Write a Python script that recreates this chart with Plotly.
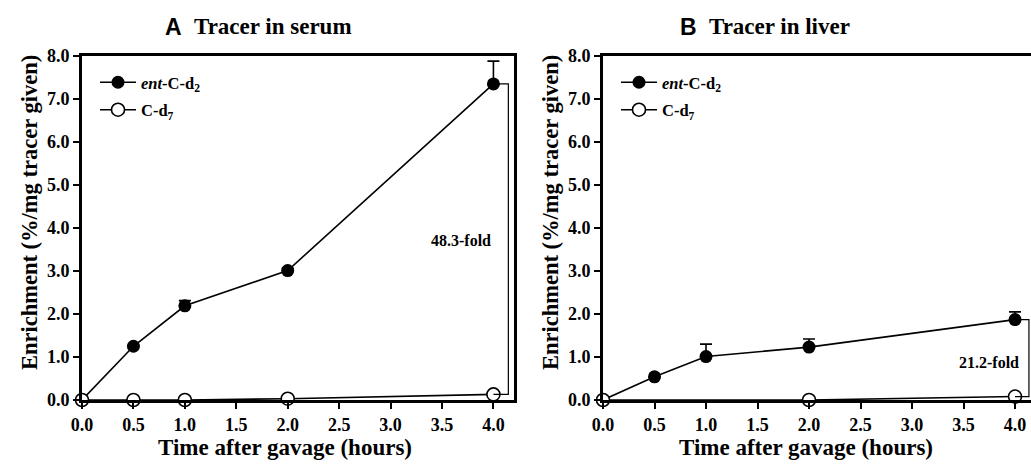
import plotly.graph_objects as go
from plotly.subplots import make_subplots

# ---- data ----
time_all = [0.0, 0.5, 1.0, 2.0, 4.0]

serum_ent = [0.0, 1.25, 2.19, 3.01, 7.35]
serum_ent_err = [0.0, 0.0, 0.12, 0.05, 0.53]
serum_cd7 = [0.0, 0.0, 0.0, 0.03, 0.13]

liver_time_ent = [0.0, 0.5, 1.0, 2.0, 4.0]
liver_ent = [0.0, 0.54, 1.01, 1.23, 1.87]
liver_ent_err = [0.0, 0.0, 0.29, 0.19, 0.18]
liver_time_cd7 = [0.0, 2.0, 4.0]
liver_cd7 = [0.0, 0.0, 0.08]

fold_labels = ["48.3-fold", "21.2-fold"]
panel_letters = ["A", "B"]
panel_titles = ["Tracer in serum", "Tracer in liver"]
x_ticks = [0.0, 0.5, 1.0, 1.5, 2.0, 2.5, 3.0, 3.5, 4.0]
y_ticks = [0.0, 1.0, 2.0, 3.0, 4.0, 5.0, 6.0, 7.0, 8.0]
x_title = "Time after gavage (hours)"
y_title = "Enrichment (%/mg tracer given)"
ent_name = "<i>ent</i>-C-d<sub>2</sub>"
cd7_name = "C-d<sub>7</sub>"

SERIF = "Liberation Serif, Times New Roman, serif"
SANS = "Liberation Sans, Arial, sans-serif"
W, H = 1031, 467

fig = make_subplots(rows=1, cols=2)


def add_panel(col, t_ent, ent, ent_err, t_cd7, cd7, legend_id, fold_text, fold_pos, bracket_x):
    # ent-C-d2 (filled)
    fig.add_trace(go.Scatter(
        x=t_ent, y=ent, mode="lines+markers", name=ent_name,
        line=dict(color="black", width=1.6),
        marker=dict(symbol="circle", size=13, color="black"),
        error_y=dict(type="data", array=ent_err, arrayminus=[0] * len(ent_err),
                     symmetric=False, color="black", thickness=1.6, width=6),
        cliponaxis=False, legend=legend_id, legendgroup=f"ent{col}",
    ), row=1, col=col)
    # C-d7 (open)
    fig.add_trace(go.Scatter(
        x=t_cd7, y=cd7, mode="lines+markers", name=cd7_name,
        line=dict(color="black", width=1.6),
        marker=dict(symbol="circle", size=13, color="white", line=dict(color="black", width=1.6)),
        cliponaxis=False, legend=legend_id, legendgroup=f"cd7{col}",
    ), row=1, col=col)
    # fold bracket between last values
    fig.add_trace(go.Scatter(
        x=[t_ent[-1], bracket_x, bracket_x, t_cd7[-1]],
        y=[ent[-1], ent[-1], cd7[-1], cd7[-1]],
        mode="lines", line=dict(color="black", width=1.2),
        showlegend=False, hoverinfo="skip", cliponaxis=False,
    ), row=1, col=col)
    xr = "x" if col == 1 else "x2"
    yr = "y" if col == 1 else "y2"
    fig.add_annotation(x=fold_pos[0], y=fold_pos[1], xref=xr, yref=yr, text=f"<b>{fold_text}</b>",
                       showarrow=False, font=dict(family=SERIF, size=16, color="black"))


add_panel(1, time_all, serum_ent, serum_ent_err, time_all, serum_cd7, "legend",
          fold_labels[0], (3.68, 3.72), 4.145)
add_panel(2, liver_time_ent, liver_ent, liver_ent_err, liver_time_cd7, liver_cd7, "legend2",
          fold_labels[1], (3.75, 0.88), 4.135)

axis_common = dict(showline=True, linecolor="black", linewidth=3, ticks="outside",
                   tickwidth=2, ticklen=6, tickcolor="black", showgrid=False, zeroline=False,
                   automargin=False,
                   tickfont=dict(family=SERIF, size=18, color="black", weight="bold"))

x_dom_a = [82 / W, 514 / W]
x_dom_b = [603 / W, 1.0]
y_dom = [(H - 400) / H, (H - 56) / H]

for i, (dom, rng, mirror_y) in enumerate([(x_dom_a, [0, 4.2], True), (x_dom_b, [0, 4.155], False)], start=1):
    fig.update_xaxes(row=1, col=i, domain=dom, range=rng, tickvals=x_ticks,
                     ticktext=[f"{v:.1f}" for v in x_ticks], mirror=True, **axis_common)
    fig.update_yaxes(row=1, col=i, domain=y_dom, range=[0, 8], tickvals=y_ticks,
                     ticktext=[f"{v:.1f}" for v in y_ticks], mirror=mirror_y, **axis_common)


# axis titles and panel titles (pixel positions converted to paper coords)
def px(xp, yp):
    return xp / W, (H - yp) / H


for (xc, yc) in [(285, 447), (806, 447)]:
    x, y = px(xc, yc)
    fig.add_annotation(x=x, y=y, xref="paper", yref="paper", text=f"<b>{x_title}</b>",
                       showarrow=False, xanchor="center", yanchor="middle",
                       font=dict(family=SERIF, size=23, color="black"))
for (xc, yc) in [(29, 213), (550, 213)]:
    x, y = px(xc, yc)
    fig.add_annotation(x=x, y=y, xref="paper", yref="paper", text=f"<b>{y_title}</b>",
                       showarrow=False, textangle=-90, xanchor="center", yanchor="middle",
                       font=dict(family=SERIF, size=22.5, color="black"))
for letter, ttl, (lx, tx) in zip(panel_letters, panel_titles, [(184, 192), (699, 707)]):
    x, y = px(lx, 27)
    fig.add_annotation(x=x, y=y, xref="paper", yref="paper", text=f"<b>{letter}</b>",
                       showarrow=False, xanchor="right", yanchor="middle",
                       font=dict(family=SANS, size=23, color="black"))
    x, y = px(tx, 27)
    fig.add_annotation(x=x, y=y, xref="paper", yref="paper", text=f"<b>{ttl}</b>",
                       showarrow=False, xanchor="left", yanchor="middle",
                       font=dict(family=SERIF, size=23, color="black"))

legend_common = dict(bgcolor="rgba(0,0,0,0)", borderwidth=0, xanchor="left", yanchor="top",
                     font=dict(family=SERIF, size=16.5, color="black", weight="bold"),
                     itemwidth=36, tracegroupgap=3, traceorder="grouped")
fig.update_layout(
    width=W, height=H,
    margin=dict(l=0, r=0, t=0, b=0),
    paper_bgcolor="white", plot_bgcolor="white",
    legend=dict(x=95 / W, y=(H - 65) / H, **legend_common),
    legend2=dict(x=616 / W, y=(H - 65) / H, **legend_common),
)

fig.write_html("out.html", config={"displayModeBar": False},
               post_script="document.body.style.margin='0';document.body.style.overflow='hidden';")
